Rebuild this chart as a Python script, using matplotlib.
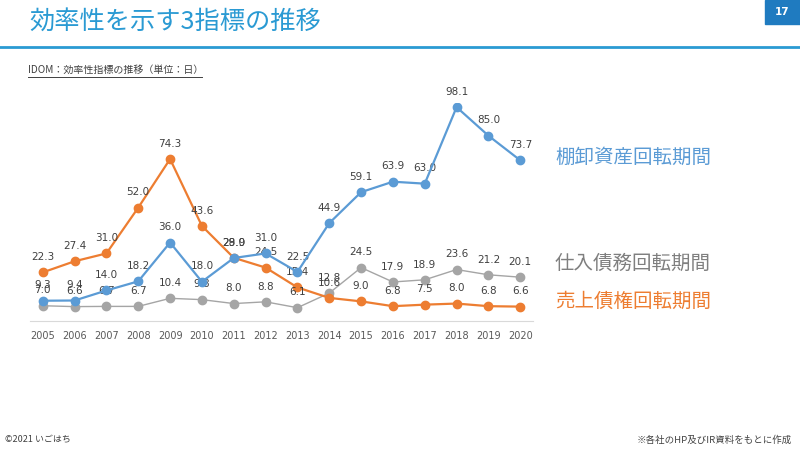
import matplotlib.pyplot as plt
from matplotlib.patches import Rectangle

plt.rcParams['font.family'] = ['Noto Sans CJK JP', 'DejaVu Sans']

years = [2005, 2006, 2007, 2008, 2009, 2010, 2011, 2012,
         2013, 2014, 2015, 2016, 2017, 2018, 2019, 2020]
inventory_days = [9.3, 9.4, 14.0, 18.2, 36.0, 18.0, 28.9, 31.0,
                  22.5, 44.9, 59.1, 63.9, 63.0, 98.1, 85.0, 73.7]
payable_days = [7.0, 6.6, 6.7, 6.7, 10.4, 9.8, 8.0, 8.8,
                6.1, 12.8, 24.5, 17.9, 18.9, 23.6, 21.2, 20.1]
receivable_days = [22.3, 27.4, 31.0, 52.0, 74.3, 43.6, 29.0, 24.5,
                   15.4, 10.6, 9.0, 6.8, 7.5, 8.0, 6.8, 6.6]

BLUE = '#5B9BD5'
ORANGE = '#ED7D31'
GRAY = '#A5A5A5'
TITLE_BLUE = '#2A9AD3'

fig = plt.figure(figsize=(8, 4.5), dpi=100)

# header
fig.text(29 / 800, 1 - 22 / 450, '効率性を示す3指標の推移', fontsize=18.2,
         color=TITLE_BLUE, va='center', ha='left')
fig.add_artist(plt.Line2D([0, 1], [1 - 47 / 450, 1 - 47 / 450],
                          color=TITLE_BLUE, lw=2, transform=fig.transFigure))
fig.add_artist(Rectangle((765 / 800, 1 - 24 / 450), 35 / 800, 24 / 450,
                         color='#1F7BC0', transform=fig.transFigure))
fig.text(782 / 800, 1 - 12 / 450, '17', fontsize=7.5, color='white',
         fontweight='bold', ha='center', va='center', family='DejaVu Sans')

fig.text(28 / 800, 1 - 70 / 450, 'IDOM：効率性指標の推移（単位：日）',
         fontsize=7.2, color='#404040', va='center', ha='left')
fig.add_artist(plt.Line2D([28 / 800, 202 / 800], [1 - 77 / 450, 1 - 77 / 450],
                          color='#404040', lw=0.7, transform=fig.transFigure))

# chart
ax = fig.add_axes([30 / 800, (450 - 321) / 450, 503 / 800, 218 / 450])
ax.plot(years, payable_days, color=GRAY, lw=1.0, marker='o', ms=6, zorder=2)
ax.plot(years, receivable_days, color=ORANGE, lw=1.6, marker='o', ms=6, zorder=3)
ax.plot(years, inventory_days, color=BLUE, lw=1.6, marker='o', ms=6, zorder=4)

for series in [inventory_days, payable_days, receivable_days]:
    for x, v in zip(years, series):
        ax.annotate('%.1f' % v, (x, v), xytext=(0, 11), textcoords='offset points',
                    ha='center', va='center', fontsize=7.5, color='#404040',
                    family='DejaVu Sans', annotation_clip=False)

ax.set_xlim(2004.6, 2020.4)
ax.set_ylim(0, 100)
ax.set_xticks(years)
ax.set_xticklabels([str(y) for y in years], fontsize=7, color='#595959',
                   family='DejaVu Sans')
ax.tick_params(axis='x', length=0, pad=7)
ax.set_yticks([])
for side in ['top', 'right', 'left']:
    ax.spines[side].set_visible(False)
ax.spines['bottom'].set_color('#D9D9D9')

# series names
fig.text(555 / 800, 1 - 157 / 450, '棚卸資産回転期間', fontsize=14, color=BLUE,
         va='center', ha='left')
fig.text(555 / 800, 1 - 263 / 450, '仕入債務回転期間', fontsize=14, color='#7F7F7F',
         va='center', ha='left')
fig.text(555 / 800, 1 - 301 / 450, '売上債権回転期間', fontsize=14, color=ORANGE,
         va='center', ha='left')

# footer
fig.text(5 / 800, 1 - 440 / 450, '©2021 いごはち', fontsize=6.5, color='#404040',
         va='center', ha='left')
fig.text(792 / 800, 1 - 440 / 450, '※各社のHP及びIR資料をもとに作成', fontsize=6.8,
         color='#404040', va='center', ha='right')

fig.savefig('out.png', dpi=100)
